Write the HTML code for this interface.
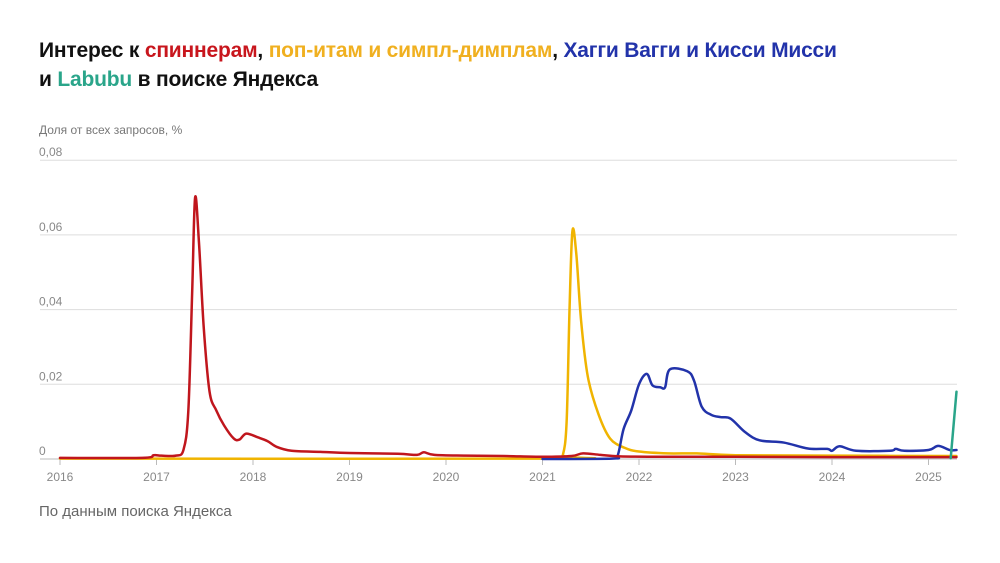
<!DOCTYPE html>
<html><head><meta charset="utf-8"><style>
body{margin:0;background:#fff;font-family:"Liberation Sans","DejaVu Sans",sans-serif}
#wrap{position:relative;width:1000px;height:563px;overflow:hidden}
h1{position:absolute;left:39px;top:36px;margin:0;font-size:21px;line-height:29px;font-weight:bold;color:#111;letter-spacing:-0.2px}
.r{color:#c8161d}.y{color:#f0b020}.b{color:#2233aa}.t{color:#2aa58a}
.note{position:absolute;font-size:12px;color:#777}
.src{position:absolute;left:39px;top:503px;font-size:15px;color:#666}
</style></head><body>
<div id="wrap">
<h1>Интерес к <span class="r">спиннерам</span>, <span class="y">поп-итам и симпл-димплам</span>, <span class="b">Хагги Вагги и Кисси Мисси</span><br>и <span class="t">Labubu</span> в поиске Яндекса</h1>
<div class="note" style="left:39px;top:123px">Доля от всех запросов, %</div>
<svg id="chart" width="1000" height="563" style="position:absolute;left:0;top:0"></svg>
<div class="src">По данным поиска Яндекса</div>
</div>
<script>
const yTicks=[0,0.02,0.04,0.06,0.08];
const yTickLabels=["0","0,02","0,04","0,06","0,08"];
const xYears=[2016,2017,2018,2019,2020,2021,2022,2023,2024,2025];
const spinT=[2016,2016.85,2016.97,2017.05,2017.2,2017.28,2017.33,2017.37,2017.40,2017.44,2017.49,2017.55,2017.62,2017.7,2017.8,2017.86,2017.93,2018.05,2018.15,2018.25,2018.4,2018.7,2019.0,2019.5,2019.7,2019.77,2019.88,2020.2,2020.6,2021.0,2021.3,2021.42,2021.6,2021.8,2022.2,2023,2024,2025.29];
const spinV=[0.0003,0.0003,0.001,0.0009,0.0009,0.0025,0.013,0.045,0.070,0.058,0.035,0.018,0.013,0.009,0.0055,0.0052,0.0068,0.0058,0.0048,0.0032,0.0022,0.0019,0.0016,0.0014,0.0011,0.0018,0.0011,0.0009,0.0008,0.0006,0.0008,0.0015,0.0011,0.0007,0.0006,0.0006,0.0005,0.0005];
const popT=[2016,2021.15,2021.21,2021.25,2021.28,2021.31,2021.35,2021.4,2021.47,2021.58,2021.7,2021.85,2022.0,2022.3,2022.6,2023.0,2024,2025.29];
const popV=[0.0001,0.0001,0.001,0.01,0.04,0.061,0.055,0.037,0.022,0.012,0.0055,0.003,0.002,0.0015,0.0015,0.001,0.0009,0.0008];
const huggyT=[2021.0,2021.72,2021.78,2021.84,2021.92,2022.0,2022.08,2022.14,2022.22,2022.27,2022.32,2022.5,2022.57,2022.65,2022.75,2022.85,2022.95,2023.1,2023.25,2023.5,2023.75,2023.95,2024.0,2024.08,2024.25,2024.6,2024.66,2024.75,2025.0,2025.1,2025.22,2025.29];
const huggyV=[0,0.0001,0.001,0.008,0.013,0.02,0.0228,0.0197,0.0192,0.0192,0.024,0.0235,0.021,0.014,0.0118,0.0112,0.0108,0.0072,0.005,0.0044,0.0028,0.0027,0.0022,0.0034,0.0022,0.0022,0.0027,0.0022,0.0024,0.0035,0.0024,0.0024];
const labT=[2025.23,2025.29];
const labV=[0.0002,0.018];
const X=t=>60+(t-2016)*96.5;
const Y=v=>459-v/0.02*74.7;
const svg=document.getElementById('chart');
const NS='http://www.w3.org/2000/svg';
function mk(tag,attrs){const e=document.createElementNS(NS,tag);for(const k in attrs)e.setAttribute(k,attrs[k]);svg.appendChild(e);return e;}
yTicks.forEach((v,i)=>{
 const g=mk('line',{x1:40,x2:957,y1:Y(v),y2:Y(v),stroke:v===0?'#bbb':'#ddd','stroke-width':1});
 
 
 const t=mk('text',{x:39,y:Y(v)-4,'font-size':12,fill:'#888','font-family':'Liberation Sans, sans-serif'});
 t.textContent=yTickLabels[i];
 
 
});
xYears.forEach(yr=>{
 const l=mk('line',{x1:X(yr),x2:X(yr),y1:459,y2:465,stroke:'#bbb'});
 
 
 const t=mk('text',{x:X(yr),y:481,'font-size':12,fill:'#888','text-anchor':'middle','font-family':'Liberation Sans, sans-serif'});
 t.textContent=yr;
 
 
});
function path(ts,vs){const p=ts.map((t,i)=>[X(t),Y(vs[i])]);let d='M'+p[0][0]+','+p[0][1];
 for(let i=0;i<p.length-1;i++){const p0=p[Math.max(i-1,0)],p1=p[i],p2=p[i+1],p3=p[Math.min(i+2,p.length-1)];
  const c1x=p1[0]+(p2[0]-p0[0])/6,c1y=p1[1]+(p2[1]-p0[1])/6,c2x=p2[0]-(p3[0]-p1[0])/6,c2y=p2[1]-(p3[1]-p1[1])/6;
  d+=` C${c1x},${Math.min(c1y,459)} ${c2x},${Math.min(c2y,459)} ${p2[0]},${p2[1]}`;}
 return d;}
const series=[[popT,popV,'#f0b400','line-pop-its'],[huggyT,huggyV,'#2233aa','line-huggy-wuggy'],[spinT,spinV,'#c0161d','line-spinners'],[labT,labV,'#2aa58a','line-labubu']];
series.forEach(s=>{
 const p=mk('path',{d:path(s[0],s[1]),fill:'none',stroke:s[2],'stroke-width':2.5,'stroke-linejoin':'round','stroke-linecap':'round'});
 
 
});
</script>
</body></html>
